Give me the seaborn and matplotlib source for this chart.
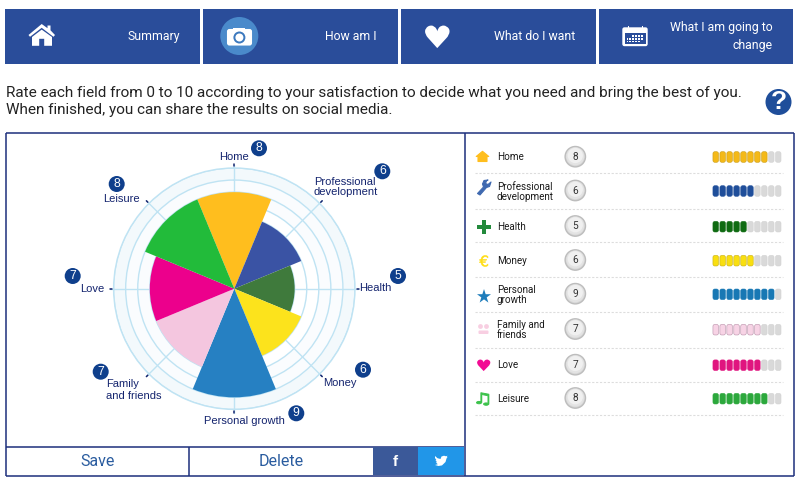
import numpy as np
import pandas as pd
import matplotlib
matplotlib.use("Agg")
import matplotlib.pyplot as plt
from matplotlib.patches import Rectangle, Circle, FancyBboxPatch, PathPatch, Polygon
from matplotlib.textpath import TextPath
from matplotlib.font_manager import FontProperties
from matplotlib.transforms import Affine2D
import seaborn as sns

# ---- data ----
categories = ["Home", "Professional development", "Health", "Money",
              "Personal growth", "Family and friends", "Love", "Leisure"]
scores = [8, 6, 5, 6, 9, 7, 7, 8]
wedge_colors = ["#FFBE1E", "#3A53A4", "#3F7A3C", "#FCE31C",
                "#2680C2", "#F4C6DF", "#EC008C", "#22BB3A"]
meter_colors = ["#F4B918", "#1F4E9A", "#0F6B12", "#F9DF10",
                "#1878B4", "#F7D3E5", "#E0157F", "#2CA83C"]
meter_edges = ["#C99A10", "#1F4E9A", "#0F6B12", "#C8AE10",
               "#1878B4", "#B88FA8", "#E0157F", "#2CA83C"]
list_labels = ["Home", "Professional\ndevelopment", "Health", "Money",
               "Personal\ngrowth", "Family and\nfriends", "Love", "Leisure"]
header_labels = ["Summary", "How am I", "What do I want", "What I am going to\nchange"]
intro_lines = ["Rate each field from 0 to 10 according to your satisfaction to decide what you need and bring the best of you.",
               "When finished, you can share the results on social media."]

HEADER = "#2A4D9A"
NAVY = "#14246E"
FRAME = "#1C2F7C"
BADGE = "#0F3F8C"
ROB = "Roboto"
LIB = "Liberation Sans"

sns.set_theme(style="white")
plt.rcParams["font.family"] = [ROB, "DejaVu Sans"]

fig = plt.figure(figsize=(8, 4.83), dpi=100, facecolor="white")
ax = fig.add_axes([0, 0, 1, 1], zorder=0)
ax.set_xlim(0, 800)
ax.set_ylim(483, 0)
ax.axis("off")


def glyph(ch, cx, cy, w, h, color, bold=False, z=5, stroke=0):
    fp = FontProperties(family="DejaVu Sans", weight="bold" if bold else "normal")
    tp = TextPath((0, 0), ch, size=1, prop=fp)
    e = tp.get_extents()
    tr = (Affine2D().translate(-(e.x0 + e.x1) / 2, -(e.y0 + e.y1) / 2)
          .scale(w / e.width, -h / e.height).translate(cx, cy))
    ax.add_patch(PathPatch(tr.transform_path(tp), fc=color, ec=color if stroke else "none", lw=stroke, zorder=z))


# ---- header bar ----
boxes = [(5, 200), (203, 398), (401, 596), (599, 793)]
rights = [180, 377, 575, 773]
for (x0, x1), lab, r in zip(boxes, header_labels, rights):
    ax.add_patch(Rectangle((x0, 8.7), x1 - x0, 55.3, fc=HEADER, ec="none", zorder=1))
    ax.text(r, 36.3, lab, color="white", ha="right", va="center", fontsize=8.8,
            family=ROB, linespacing=1.55, zorder=3)

# house
W = "white"
ax.add_patch(Polygon([(41.7, 24), (47.5, 28.2), (47.5, 25.5), (50.5, 25.5), (50.5, 30.3), (55, 35),
                      (53.5, 36.8), (41.7, 27.8), (30, 36.8), (28.5, 35)], fc=W, ec="none", zorder=3))
ax.add_patch(Polygon([(32, 37), (41.7, 29.6), (52, 37), (52, 45.8), (44.2, 45.8), (44.2, 38.8),
                      (39.2, 38.8), (39.2, 45.8), (32, 45.8)], fc=W, ec="none", zorder=3))
# camera
ax.add_patch(Circle((239.3, 36), 19, fc="#4A8ACB", ec="none", zorder=2))
ax.add_patch(FancyBboxPatch((228, 30), 23, 14.5, boxstyle="round,pad=0,rounding_size=1.5", fc=W, ec=W, lw=1.5, zorder=3))
ax.add_patch(Rectangle((233, 27.8), 12, 3, fc=W, ec="none", zorder=3))
ax.add_patch(Circle((239.4, 37.5), 6, fc="#3C79BE", ec="none", zorder=4))
ax.add_patch(Circle((239.4, 37.5), 4, fc=W, ec="none", zorder=4))
# heart
glyph("\u2665", 437.3, 36.8, 24.5, 22.5, W, z=3)
# calendar
ax.add_patch(FancyBboxPatch((623, 28), 24, 17.5, boxstyle="round,pad=0,rounding_size=1.5", fc=W, ec=W, lw=1, zorder=3))
ax.add_patch(Rectangle((624.5, 33), 21, 11, fc=HEADER, ec="none", zorder=3))
for cal_x in (628, 642):
    ax.add_patch(Rectangle((cal_x, 25.6), 1.4, 3.5, fc=W, ec="none", zorder=3))
for cal_row, cal_xs in zip((35.3, 38, 40.7), ((632, 635, 638, 641), (626.5, 629.3, 632, 635, 638, 641), (626.5, 629.3, 632, 635, 638))):
    for cal_x in cal_xs:
        ax.add_patch(Rectangle((cal_x, cal_row), 1.8, 1.8, fc=W, ec="none", zorder=4))

# ---- intro text ----
ax.text(5.5, 93.2, intro_lines[0], color="#222222", fontsize=10.95, family=ROB, va="center", ha="left")
ax.text(5.5, 110.2, intro_lines[1], color="#222222", fontsize=10.95, family=ROB, va="center", ha="left")
ax.add_patch(Circle((778.5, 102), 13, fc="#1F4E9A", ec="none", zorder=2))
ax.text(778.5, 102, "?", color="white", fontsize=19, fontweight="bold", family=LIB, ha="center", va="center", zorder=3)

# ---- frames ----
for xs, ys in [((6, 794), (132.5, 132.5)), ((6, 6), (132.5, 475.5)), ((464.5, 464.5), (132.5, 475.5)),
               ((793.5, 793.5), (132.5, 475.5)), ((6, 794), (475.5, 475.5)), ((6, 464), (446.5, 446.5)),
               ((188.5, 188.5), (446.5, 475.5))]:
    ax.plot(xs, ys, color=FRAME, lw=1.1, solid_capstyle="butt", zorder=2)

# ---- buttons ----
ax.text(97.3, 461.5, "Save", color="#2A5C9F", fontsize=11.5, family=ROB, ha="center", va="center")
ax.text(281, 461.5, "Delete", color="#2A5C9F", fontsize=11.5, family=ROB, ha="center", va="center")
ax.add_patch(Rectangle((372.7, 446.9), 45.3, 28, fc="#3B5999", ec="none", zorder=3))
ax.add_patch(Rectangle((418, 446.9), 46, 28, fc="#2196E8", ec="none", zorder=3))
ax.text(395, 461.5, "f", color="white", fontsize=11, fontweight="bold", family=LIB, ha="center", va="center", zorder=4)
ax.add_patch(Polygon([(435, 456), (437.5, 458.2), (440.5, 459), (441.5, 456.5), (444, 455.7), (446, 456.3), (447.5, 455.7),
                      (446.7, 457.3), (447.6, 457), (446.5, 458.5), (445.5, 462), (442, 465.4), (438.5, 466), (435, 465),
                      (437.8, 464.2), (435.8, 462.3), (437, 462.2), (435.4, 460), (436.5, 460.2), (435, 458)],
                     fc="white", ec="none", zorder=4))

# ---- polar wheel ----
cx, cy, R = 234.3, 288.7, 120.7
pax = fig.add_axes([(cx - R) / 800, (483 - cy - R) / 483, 2 * R / 800, 2 * R / 483],
                   projection="polar", zorder=1)
pax.patch.set_alpha(0)
pax.set_theta_zero_location("N")
pax.set_theta_direction(-1)
angles = np.deg2rad(np.arange(len(scores)) * 45.0)
ring_theta = np.linspace(0, 2 * np.pi, 361)
pax.fill_between(ring_theta, 9, 10, color="#F3F9FC", lw=0, zorder=0.2)
pax.fill_between(ring_theta, 7, 9, color="#FAFCFE", lw=0, zorder=0.2)
pax.set_rlim(0, 10)
pax.set_xticks(angles)
pax.set_xticklabels([])
pax.set_yticks(range(1, 11))
pax.set_yticklabels([])
pax.grid(True, color="#BFE3F3", lw=1.0)
pax.set_axisbelow(True)
for sp in pax.spines.values():
    sp.set_edgecolor("#BFE3F3")
    sp.set_linewidth(1.0)
pax.bar(angles, scores, width=np.deg2rad(45), color=wedge_colors, edgecolor="none", linewidth=0, zorder=3)
for a in angles:
    pax.plot([a, a], [10, 10.28], color="#BFE3F3", lw=1.0, clip_on=False, zorder=1)
    pax.plot([a, a], [10.13, 10.3], color=NAVY, lw=1.1, clip_on=False, zorder=2)
pax.set_rlim(0, 10)

# ---- wheel labels and badges ----
wheel_labels = [("Home", 233.7, 156.8, "center"), ("Professional\ndevelopment", 314, 186.7, "left"),
                ("Health", 359.3, 288.3, "left"), ("Money", 322.7, 382.5, "left"),
                ("Personal growth", 244.7, 420.5, "center"), ("Family\nand friends", 106.3, 390.3, "left"),
                ("Love", 80, 288.5, "left"), ("Leisure", 103.3, 199.2, "left")]
badge_xy = [(259, 148.3), (382.3, 171.3), (398, 276), (363, 369.7),
            (296.3, 413.3), (100.7, 371.7), (72.7, 276), (116.7, 184)]
for (lab, x, y, ha), (bx, by), v in zip(wheel_labels, badge_xy, scores):
    ax.text(x, y, lab, color=NAVY, fontsize=8.05, family=LIB, ha=ha, va="center",
            linespacing=0.98 if "Prof" in lab else 1.25, zorder=4)
    ax.add_patch(Circle((bx, by), 8, fc=BADGE, ec="none", zorder=4))
    ax.text(bx, by, str(v), color="white", fontsize=8.7, family=LIB, ha="center", va="center", zorder=5)

# ---- right list ----
row_y = [157, 191, 226.7, 260.7, 294.3, 329.7, 365.2, 398.7]
sep_y = [173.3, 209, 242, 277, 312, 348, 382, 415]
text_y = [157.5, 191.5, 226.7, 261, 295, 330, 365.5, 399.5]
circle_y = [156.7, 190.5, 226, 260, 293.7, 329, 364.7, 398]
for y in sep_y:
    ax.plot([475, 783], [y, y], color="#DDDDDD", lw=0.8, ls=(0, (2, 1.5)), zorder=1)
for lab, ty, by, v in zip(list_labels, text_y, circle_y, scores):
    ax.text(496.7, ty, lab, color="#1A1A1A", fontsize=7.15, family=ROB, ha="left", va="center", linespacing=1.0, zorder=4)
    ax.add_patch(Circle((575.3, by), 10.2, fc="#D6D6D6", ec="#BDBDBD", lw=1, zorder=3))
    ax.add_patch(Circle((575.3, by - 0.4), 9, fc="#E3E3E3", ec="none", zorder=3))
    ax.add_patch(Circle((575.3, by - 1.2), 7.6, fc="#F0F0F0", ec="none", zorder=3))
    ax.text(575.3, by, str(v), color="#333333", fontsize=7.3, family=ROB, ha="center", va="center", zorder=4)

# list icons
ax.add_patch(Polygon([(482.5, 151.3), (488.8, 156.5), (487, 156.5), (487, 161.5), (478, 161.5), (478, 156.5), (476.2, 156.5)],
                     fc=wedge_colors[0], ec=wedge_colors[0], lw=0.8, joinstyle="round", zorder=4))
ax.add_patch(Polygon([(477.5, 193.5), (480, 195), (486.5, 187.5), (489.5, 186.5), (491, 182), (488, 184.5), (485.5, 183.5),
                      (486.5, 181), (488, 180), (484, 180.5), (482.5, 184), (483.5, 187)],
                     fc="#3F69B0", ec="#3F69B0", lw=0.8, joinstyle="round", zorder=4))
ax.add_patch(Rectangle((477.3, 225), 13.7, 3.6, fc="#238A3C", ec="none", zorder=4))
ax.add_patch(Rectangle((482.3, 220), 3.6, 13.7, fc="#238A3C", ec="none", zorder=4))
glyph("\u20ac", 483.7, 261, 8.5, 11, "#FFDE17", stroke=0.4)
glyph("\u2605", 484, 295.8, 14, 13.5, "#1F7DBB")
ax.add_patch(Circle((480.5, 326.5), 2.4, fc="#F8CFE2", ec="none", zorder=4))
ax.add_patch(Circle((486.5, 326.5), 2.4, fc="#F8CFE2", ec="none", zorder=4))
ax.add_patch(FancyBboxPatch((479, 331), 9, 2.5, boxstyle="round,pad=0.5,rounding_size=1", fc="#F8CFE2", ec="none", zorder=4))
glyph("\u2665", 483.7, 365.3, 13.2, 11.5, "#F20C94")
glyph("\u266B", 482.7, 399, 12.3, 12.5, "#3CC24B", stroke=0.7)

# segmented meters, one marker per segment
rows = []
for name, y, v in zip(categories, row_y, scores):
    for seg in range(10):
        rows.append({"segment": seg, "y": y, "state": name if seg < v else "empty"})
meter = pd.DataFrame(rows)
seg_x = 715.7 + meter["segment"] * 6.95
palette = dict(zip(categories, meter_colors))
palette["empty"] = "#D9D9D9"
edge_map = dict(zip(categories, meter_edges))
edge_map["empty"] = "#D2D2D2"
pill_patch = FancyBboxPatch((-0.26, -0.5), 0.52, 1.0, boxstyle="round,pad=0,rounding_size=0.18")
pill = pill_patch.get_transform().transform_path(pill_patch.get_path())
sns.scatterplot(x=seg_x, y=meter["y"], hue=meter["state"], palette=palette, marker=pill, s=58,
                edgecolor=[edge_map[s] for s in meter["state"]], linewidth=0.4, legend=False, ax=ax, zorder=4)
ax.set_xlim(0, 800)
ax.set_ylim(483, 0)
ax.axis("off")

fig.savefig("out.png", dpi=100, facecolor="white")
